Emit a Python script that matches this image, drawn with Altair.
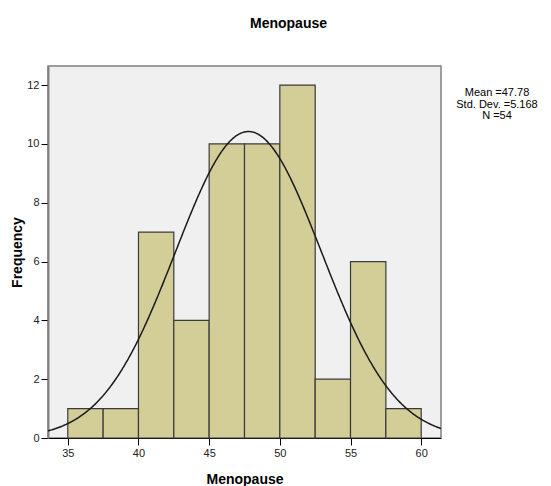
import altair as alt
import pandas as pd

bin_start = [35, 37.5, 40, 42.5, 45, 47.5, 50, 52.5, 55, 57.5]
bin_end = [37.5, 40, 42.5, 45, 47.5, 50, 52.5, 55, 57.5, 60]
counts = [1, 1, 7, 4, 10, 10, 12, 2, 6, 1]
x_ticks = [35, 40, 45, 50, 55, 60]
y_ticks = [0, 2, 4, 6, 8, 10, 12]
mean = 47.78
sd = 5.168
n = 54
bin_width = 2.5

df = pd.DataFrame({"start": bin_start, "end": bin_end, "count": counts})

FONT = "Liberation Sans"
xscale = alt.Scale(domain=[33.6, 61.4], nice=False, zero=False)
yscale = alt.Scale(domain=[0, 12.65], nice=False)

xaxis = alt.Axis(values=x_ticks, title="Menopause", grid=False, tickSize=7,
                 labelPadding=2, labelFontSize=11, labelFont=FONT, labelColor="#222",
                 titleFont=FONT, titleFontSize=14, titleFontWeight="bold", titleColor="#000",
                 titlePadding=14, domainColor="#000", tickColor="#000", labelFlush=False)
yaxis = alt.Axis(values=y_ticks, title="Frequency", grid=False, tickSize=7,
                 labelPadding=2, labelFontSize=11, labelFont=FONT, labelColor="#222",
                 titleFont=FONT, titleFontSize=14, titleFontWeight="bold", titleColor="#000",
                 titlePadding=2, domainColor="#808080", domainWidth=2, tickColor="#000", labelFlush=False)

bars = alt.Chart(df).mark_rect(color="#d3ce97", stroke="#3a3a3a", strokeWidth=1.2).encode(
    x=alt.X("start:Q", scale=xscale, axis=xaxis),
    x2="end:Q",
    y=alt.Y("count:Q", scale=yscale, axis=yaxis),
    y2=alt.datum(0),
)

curve = alt.Chart(alt.sequence(33.6, 61.45, 0.05, as_="v")).transform_calculate(
    dens=f"{n}*{bin_width}/({sd}*sqrt(2*PI))*exp(-0.5*pow((datum.v-{mean})/{sd},2))"
).mark_line(color="#1a1a1a", strokeWidth=1.5, clip=True).encode(
    x=alt.X("v:Q", scale=xscale),
    y=alt.Y("dens:Q", scale=yscale),
)

title = alt.Chart(pd.DataFrame({"t": ["Menopause"]})).mark_text(
    font=FONT, fontSize=14, fontWeight="bold", color="#000", align="center", baseline="middle"
).encode(text="t:N", x=alt.value(240.5), y=alt.value(-42))

stats = alt.Chart(pd.DataFrame({"t": [f"Mean ={mean}\nStd. Dev. ={sd}\nN ={n}"]})).mark_text(
    font=FONT, fontSize=11, color="#000", align="center", baseline="top", lineBreak="\n", lineHeight=11.5
).encode(text="t:N", x=alt.value(449), y=alt.value(21))

chart = alt.layer(bars, curve, title, stats).properties(
    width=393, height=372,
    padding={"left": 40, "top": 58, "right": 100, "bottom": 60},
    autosize="none",
).configure_view(fill="#f0f0f0", stroke="#808080", strokeWidth=1.5)

chart.save("out.html", embed_options={"renderer": "svg", "actions": False})
